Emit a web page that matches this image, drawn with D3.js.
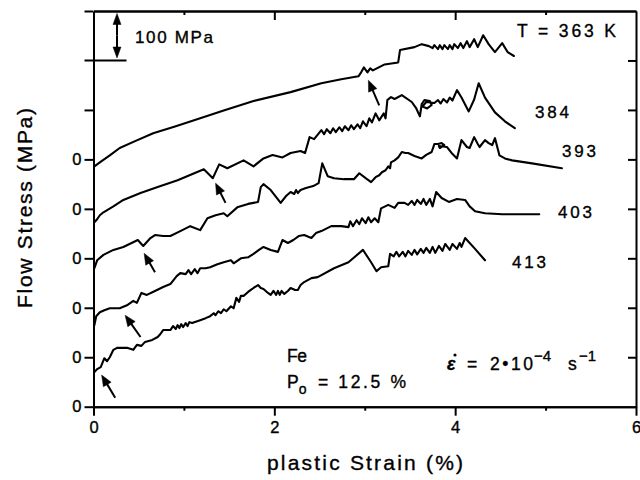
<!DOCTYPE html>
<html><head><meta charset="utf-8">
<script src="https://cdn.jsdelivr.net/npm/d3@7"></script>
<style>
body{margin:0;background:#fff}
svg{display:block}
text{font-family:"Liberation Sans",Arial,Helvetica,sans-serif;fill:#000;stroke:#000;stroke-width:0.35px}
</style>
</head><body>
<svg id="chart" width="640" height="480"></svg>
<script>
// ---------------- DATA ----------------
const temperatures = ["363", "384", "393", "403", "413"];
// vertical offset (MPa) of each curve's zero on the stacked chart
const offsets = [400, 300, 200, 100, 0];

// [plastic strain (%), flow stress above the curve's own zero (MPa)]
const curve363 = [[0.01,86],[0.07,94],[0.18,108],[0.29,123],[0.46,137],[0.66,153],[0.91,167],[1.18,183],[1.44,199],[1.77,218],[2.18,236],[2.52,254],[2.74,262],[2.93,268],[2.96,276],[2.99,286],[3.03,276],[3.06,284],[3.09,280],[3.22,292],[3.37,296],[3.39,321],[3.55,327],[3.63,333],[3.71,329],[3.75,325],[3.77,331],[3.81,323],[3.83,331],[3.86,323],[3.88,331],[3.92,323],[3.94,331],[3.97,323],[3.99,333],[4.03,325],[4.06,335],[4.09,325],[4.13,339],[4.16,327],[4.21,343],[4.25,327],[4.31,351],[4.37,333],[4.44,317],[4.52,335],[4.58,317],[4.65,309]];

const curve384 = [[0.01,73],[0.04,79],[0.07,87],[0.11,93],[0.22,105],[0.33,118],[0.52,132],[0.71,144],[0.93,158],[1.22,180],[1.32,162],[1.39,190],[1.48,182],[1.66,198],[1.77,186],[1.88,202],[1.98,209],[2.09,204],[2.18,213],[2.29,217],[2.34,213],[2.39,245],[2.44,241],[2.52,259],[2.55,251],[2.58,261],[2.62,253],[2.65,263],[2.68,255],[2.72,265],[2.75,257],[2.78,267],[2.82,259],[2.85,269],[2.88,261],[2.92,271],[2.95,263],[2.98,277],[3.02,267],[3.05,283],[3.08,275],[3.12,293],[3.16,279],[3.21,293],[3.23,283],[3.25,320],[3.29,326],[3.33,322],[3.41,330],[3.52,316],[3.57,303],[3.61,287],[3.63,312],[3.66,320],[3.72,318],[3.74,310],[3.69,303],[3.64,307],[3.68,316],[3.77,314],[3.81,320],[3.84,313],[3.87,322],[3.91,315],[3.94,325],[3.97,319],[4.02,340],[4.07,325],[4.15,297],[4.21,321],[4.26,354],[4.33,325],[4.44,295],[4.55,277],[4.66,263]];

const curve393 = [[0.01,80],[0.04,96],[0.11,107],[0.22,117],[0.33,123],[0.49,137],[0.55,125],[0.63,141],[0.68,147],[0.77,145],[0.85,145],[0.96,155],[1.07,165],[1.18,157],[1.26,181],[1.35,187],[1.44,191],[1.48,185],[1.59,203],[1.71,210],[1.82,214],[1.85,244],[1.88,250],[1.96,238],[2.07,212],[2.13,226],[2.18,234],[2.22,230],[2.24,238],[2.26,232],[2.29,238],[2.35,242],[2.43,246],[2.49,252],[2.53,292],[2.59,266],[2.66,262],[2.77,260],[2.88,260],[2.94,272],[3.01,262],[3.07,254],[3.12,264],[3.16,268],[3.19,274],[3.23,278],[3.26,286],[3.28,282],[3.29,294],[3.33,298],[3.37,304],[3.41,315],[3.45,313],[3.48,313],[3.55,307],[3.63,302],[3.68,309],[3.74,315],[3.77,331],[3.81,331],[3.85,333],[3.88,329],[3.83,323],[3.82,327],[3.91,325],[3.96,313],[4.02,302],[4.07,339],[4.13,325],[4.16,323],[4.21,345],[4.25,331],[4.27,325],[4.33,339],[4.37,333],[4.41,329],[4.44,343],[4.49,308],[4.55,302],[4.63,298],[4.85,292],[5.18,282]];

const curve403 = [[0.01,65],[0.03,83],[0.07,91],[0.12,95],[0.18,99],[0.29,99],[0.37,105],[0.44,114],[0.48,110],[0.53,130],[0.59,126],[0.68,134],[0.77,142],[0.85,148],[0.92,164],[0.96,170],[1.02,168],[1.05,176],[1.08,168],[1.12,178],[1.15,170],[1.18,180],[1.24,180],[1.29,182],[1.37,188],[1.44,192],[1.52,196],[1.55,190],[1.63,200],[1.71,202],[1.77,209],[1.83,217],[1.88,223],[1.96,217],[2.04,213],[2.09,237],[2.15,231],[2.21,237],[2.27,245],[2.33,247],[2.41,241],[2.46,251],[2.52,255],[2.63,265],[2.74,265],[2.82,263],[2.84,275],[2.87,265],[2.91,277],[2.94,269],[2.97,281],[3.01,271],[3.04,283],[3.07,273],[3.11,281],[3.15,273],[3.18,301],[3.26,308],[3.33,302],[3.37,312],[3.44,312],[3.48,308],[3.52,316],[3.55,308],[3.58,318],[3.62,310],[3.65,320],[3.68,308],[3.72,320],[3.75,305],[3.79,334],[3.85,322],[3.93,314],[4.02,320],[4.11,318],[4.16,305],[4.22,295],[4.33,291],[4.52,289],[4.93,289]];

const curve413 = [[0.01,70],[0.04,76],[0.08,80],[0.12,98],[0.15,92],[0.18,100],[0.22,115],[0.26,119],[0.37,119],[0.44,115],[0.48,125],[0.53,123],[0.57,131],[0.65,135],[0.71,141],[0.74,147],[0.77,155],[0.85,155],[0.88,163],[0.91,157],[0.93,165],[0.95,159],[0.97,167],[0.99,161],[1.02,169],[1.04,163],[1.06,171],[1.09,169],[1.18,175],[1.24,179],[1.29,183],[1.33,189],[1.35,185],[1.38,193],[1.41,189],[1.44,197],[1.47,193],[1.52,203],[1.55,199],[1.58,220],[1.61,212],[1.63,224],[1.66,224],[1.71,232],[1.74,236],[1.77,240],[1.82,246],[1.85,240],[1.88,238],[1.93,230],[1.96,226],[1.99,234],[2.02,226],[2.04,234],[2.06,226],[2.08,234],[2.11,228],[2.15,234],[2.18,240],[2.23,236],[2.26,236],[2.29,246],[2.33,252],[2.41,260],[2.48,262],[2.66,280],[2.82,292],[2.98,317],[3.07,292],[3.13,274],[3.18,282],[3.26,284],[3.28,309],[3.32,304],[3.35,313],[3.38,304],[3.42,313],[3.45,304],[3.48,315],[3.52,307],[3.55,317],[3.58,308],[3.62,319],[3.65,311],[3.68,321],[3.72,311],[3.75,323],[3.78,311],[3.82,325],[3.86,315],[3.89,329],[3.94,317],[3.97,329],[4.02,319],[4.05,331],[4.07,323],[4.11,341],[4.22,319],[4.33,296]];

const curves = [curve363, curve384, curve393, curve403, curve413];

// arrows: [tail strain, tail stress (chart MPa), tip strain, tip stress (chart MPa)]
const arrows = [[3.16,609,3.04,660],[1.46,412,1.35,452],[0.68,272,0.56,310],[0.52,141,0.35,185],[0.24,18,0.09,64]];

// axis ticks
const xMajorTicks = [0, 2, 4, 6];
const xMinorTicks = [1, 3, 5];
const yTicks = [0, 100, 200, 300, 400, 500, 600, 700, 800];
const yTickLabels = ["0", "0", "0", "0", "0", "0", "", "", ""];
const rightTicks = [100, 200, 300, 400, 500, 600, 700];

// ---------------- DRAW ----------------
const svg = d3.select("#chart");
const FONT = '"Liberation Sans",Arial,Helvetica,sans-serif';
const x = d3.scaleLinear().domain([0, 6]).range([93.5, 636]);
const y = d3.scaleLinear().domain([0, 800]).range([406.7, 11]);
const AW = 2;

function styleAxis(g) {
  g.selectAll("path").attr("stroke", "#000").attr("stroke-width", AW);
  g.selectAll("line").attr("stroke", "#000").attr("stroke-width", AW);
  g.selectAll("text").attr("font-family", FONT).attr("font-size", 16.5).attr("fill", "#000");
}

// bottom axis (outward ticks)
svg.append("g").attr("transform", `translate(0,${y(0)})`)
  .call(d3.axisBottom(x).tickValues(xMajorTicks).tickSize(9).tickSizeOuter(0).tickPadding(6).tickFormat(d3.format("d")))
  .call(styleAxis);
svg.append("g").attr("transform", `translate(0,${y(0)})`)
  .call(d3.axisBottom(x).tickValues(xMinorTicks).tickSize(4).tickSizeOuter(0).tickFormat(""))
  .call(styleAxis);
// top axis (inward ticks)
svg.append("g").attr("transform", `translate(0,${y(800)})`)
  .call(d3.axisBottom(x).tickValues([2, 4]).tickSize(9).tickSizeOuter(0).tickFormat(""))
  .call(styleAxis);
svg.append("g").attr("transform", `translate(0,${y(800)})`)
  .call(d3.axisBottom(x).tickValues(xMinorTicks).tickSize(4).tickSizeOuter(0).tickFormat(""))
  .call(styleAxis);
// left axis (outward ticks)
svg.append("g").attr("transform", `translate(${x(0)},0)`)
  .call(d3.axisLeft(y).tickValues(yTicks.filter(v => v !== 700)).tickSize(9).tickSizeOuter(0).tickPadding(3)
    .tickFormat(v => yTickLabels[yTicks.indexOf(v)]))
  .call(styleAxis);
// right axis (inward ticks)
svg.append("g").attr("transform", `translate(${x(6)},0)`)
  .call(d3.axisRight(y).tickValues(rightTicks).tickSize(-8).tickSizeOuter(0).tickFormat(""))
  .call(styleAxis);

// scale bar: 100 MPa
svg.append("line").attr("x1", x(0) - 9).attr("x2", x(0) + 33).attr("y1", y(700)).attr("y2", y(700))
  .attr("stroke", "#000").attr("stroke-width", AW);

function arrow(x1, y1, x2, y2, len, half, sw) {
  const a = Math.atan2(y2 - y1, x2 - x1);
  const bx = x2 - len * Math.cos(a), by = y2 - len * Math.sin(a);
  svg.append("line").attr("x1", x1).attr("y1", y1).attr("x2", bx + Math.cos(a)).attr("y2", by + Math.sin(a))
    .attr("stroke", "#000").attr("stroke-width", sw);
  const p = [[x2, y2], [bx + half * Math.sin(a), by - half * Math.cos(a)], [bx - half * Math.sin(a), by + half * Math.cos(a)]];
  svg.append("polygon").attr("points", p.map(q => q.join(",")).join(" ")).attr("fill", "#000").attr("stroke", "#000").attr("stroke-width", 0.5);
}
// double arrow of the scale bar
const sbx = x(0.26);
arrow(sbx, y(750), sbx, y(795), 11, 4, 2);
arrow(sbx, y(750), sbx, y(705), 11, 4, 2);

// curves
const line = d3.line().x(d => x(d[0])).y(d => y(d[1]));
curves.forEach((c, i) => {
  svg.append("path")
    .datum(c.map(p => [p[0], p[1] + offsets[i]]))
    .attr("d", line)
    .attr("fill", "none").attr("stroke", "#000").attr("stroke-width", 2.1)
    .attr("stroke-linejoin", "round").attr("stroke-linecap", "round");
});

// arrows pointing at the curves
arrows.forEach(a => arrow(x(a[0]), y(a[1]), x(a[2]), y(a[3]), 11, 4.5, 2));

// text annotations
function txt(s, px, py, size, w) {
  const t = svg.append("text").attr("x", px).attr("y", py).attr("font-size", size).text(s);
  if (w) t.attr("textLength", w).attr("lengthAdjust", "spacing");
  return t;
}
txt("100 MPa", 135, 43, 17, 78);
txt("T = " + temperatures[0] + " K", 517, 37, 17.5, 99);
txt(temperatures[1], 535, 118, 17, 34);
txt(temperatures[2], 562, 157, 17, 34);
txt(temperatures[3], 558, 218, 17, 34);
txt(temperatures[4], 512, 268, 17, 34);
txt("Fe", 287, 362, 17.5, 20);

const po = svg.append("text").attr("x", 287).attr("y", 388).attr("font-size", 17.5);
po.append("tspan").text("P");
po.append("tspan").attr("dy", 6).attr("font-size", 14).text("o");
po.append("tspan").attr("x", 318).attr("dy", -6).attr("textLength", 88).attr("lengthAdjust", "spacing").text("= 12.5 %");

const er = svg.append("text").attr("x", 447).attr("y", 370).attr("font-size", 17.5);
er.append("tspan").attr("font-style", "italic").attr("font-weight", "bold").text("ε");
er.append("tspan").attr("x", 467).text("=");
er.append("tspan").attr("x", 490).attr("textLength", 43).attr("lengthAdjust", "spacing").text("2\u202210");
er.append("tspan").attr("x", 534).attr("dy", -9).attr("font-size", 15).text("\u22124");
er.append("tspan").attr("x", 568).attr("dy", 9).text("s");
er.append("tspan").attr("x", 579).attr("dy", -9).attr("font-size", 15).text("\u22121");
// dot over epsilon (time derivative)
svg.append("circle").attr("cx", 455).attr("cy", 355).attr("r", 1.6).attr("fill", "#000");

// axis titles
svg.append("text").attr("x", 365).attr("y", 470).attr("text-anchor", "middle").attr("font-size", 21)
  .attr("textLength", 196).attr("lengthAdjust", "spacing").text("plastic Strain (%)");
svg.append("text").attr("transform", "translate(32,208) rotate(-90)").attr("text-anchor", "middle").attr("font-size", 21)
  .attr("textLength", 200).attr("lengthAdjust", "spacing").text("Flow Stress (MPa)");
</script>
</body></html>
